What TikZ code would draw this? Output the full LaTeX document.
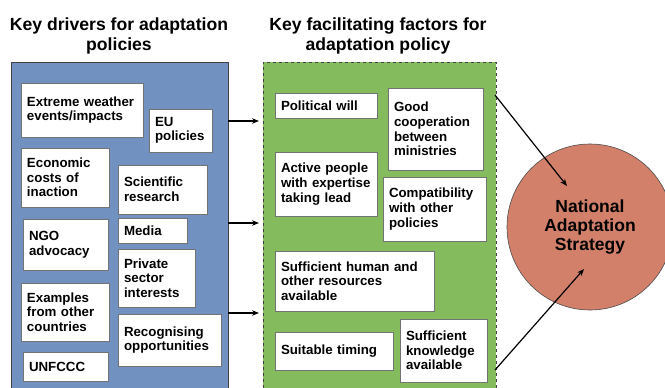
\documentclass[tikz,border=0pt]{standalone}
\usepackage{fontspec}
\setmainfont{Liberation Sans}
\usetikzlibrary{arrows.meta}
\definecolor{dblue}{HTML}{7191C1}
\definecolor{dgreen}{HTML}{84BB5C}
\definecolor{dsalmon}{HTML}{D2806A}
\tikzset{
  panel/.style={draw=black!75, line width=0.6pt, inner sep=0pt},
  box/.style={draw=black!55, line width=0.6pt, fill=white, inner xsep=6pt, inner ysep=0pt, align=left,
    font=\bfseries\fontsize{13.3}{14.6}\selectfont},
  title/.style={align=center, font=\bfseries\fontsize{17.6}{19.5}\selectfont},
  arr/.style={-{Stealth[length=7pt,width=5.5pt]}, line width=1.2pt},
}
\newcommand\bx[6]{%
  \pgfmathsetmacro\bxw{#4-#2}\pgfmathsetmacro\bxh{#5-#3}\pgfmathsetmacro\bxt{#4-#2-12}%
  \node[box, minimum width=\bxw pt, minimum height=\bxh pt, text width=\bxt pt] (#1) at ({(#2+#4)/2},{(#3+#5)/2}) {#6};}
\begin{document}
\begin{tikzpicture}[x=1pt,y=-1pt]
\useasboundingbox (0,0) rectangle (665,388);
% titles
\node[title] (t1) at (119,36) {Key drivers for adaptation\\policies};
\node[title] (t2) at (378,36) {Key facilitating factors for\\adaptation policy};
% panels
\node[panel, fill=dblue, minimum width=217pt, minimum height=327pt] (blue) at (119.5,225.5) {};
\node[panel, fill=dgreen, dashed, minimum width=233pt, minimum height=327pt] (green) at (379.5,225.5) {};
% drivers
\bx{ext}{21}{83}{143}{137}{Extreme weather\\events/impacts}
\bx{eu}{149}{109}{212}{152}{EU\\policies}
\bx{eco}{21}{148}{109}{207}{Economic\\costs of\\inaction}
\bx{sci}{118}{165}{207}{214}{Scientific\\research}
\bx{med}{118}{218}{187}{243}{Media}
\bx{ngo}{23}{219}{108}{270}{NGO\\advocacy}
\bx{pri}{118}{249}{195}{307}{Private\\sector\\interests}
\bx{exa}{21}{283}{109}{341}{Examples\\from other\\countries}
\bx{rec}{118}{314}{221}{366}{Recognising\\opportunities}
\bx{unf}{23}{352}{108}{381}{UNFCCC}
% facilitating factors
\bx{pol}{275}{93}{377}{118}{Political will}
\bx{coo}{388}{88}{483}{170}{Good\\cooperation\\between\\ministries}
\bx{act}{275}{152}{377}{216}{Active people\\with expertise\\taking lead}
\bx{com}{383}{177}{486}{241}{Compatibility\\with other\\policies}
\bx{hum}{275}{251}{434}{311}{Sufficient human and\\other resources\\available}
\bx{tim}{275}{332}{393}{370}{Suitable timing}
\bx{kno}{400}{319}{487}{382}{Sufficient\\knowledge\\available}
% circle
\node[circle, draw=black!70, line width=0.6pt, fill=dsalmon, minimum size=166pt, inner sep=0pt,
  align=center, font=\bfseries\fontsize{17.5}{19}\selectfont] (nas) at (590,227) {National\\Adaptation\\Strategy};
% connectors
\coordinate (a1) at (259,121);
\coordinate (a2) at (259,223);
\coordinate (a3) at (259,313);
\draw[arr] (blue.east |- a1) -- (a1);
\draw[arr] (blue.east |- a2) -- (a2);
\draw[arr] (blue.east |- a3) -- (a3);
\coordinate (s1) at (495,95);
\coordinate (e1) at (567,186);
\coordinate (s2) at (495,370);
\coordinate (e2) at (584,269);
\draw[arr] (s1) -- (e1);
\draw[arr] (s2) -- (e2);
\end{tikzpicture}
\end{document}
